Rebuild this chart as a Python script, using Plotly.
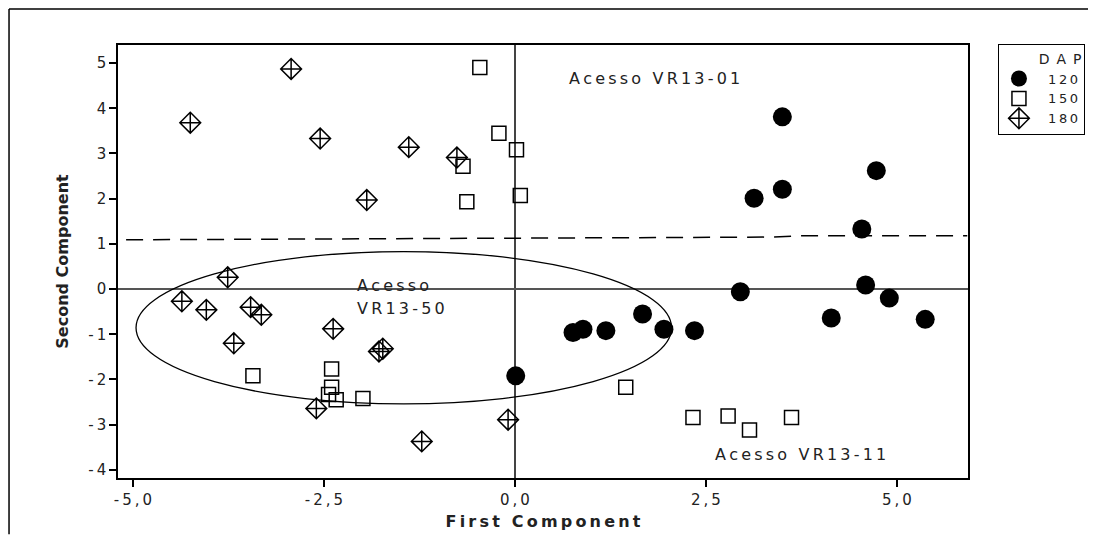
import plotly.graph_objects as go

# ---- data ----
x120 = [3.50, 4.73, 3.50, 3.13, 4.54, 2.95, 4.59, 4.90, 4.14, 5.37, 1.67, 0.76, 0.89, 1.19, 1.95, 2.35, 0.01]
y120 = [3.81, 2.62, 2.21, 2.01, 1.33, -0.06, 0.09, -0.20, -0.64, -0.67, -0.55, -0.96, -0.89, -0.92, -0.89, -0.92, -1.92]

x150 = [-0.46, -0.21, 0.02, -0.68, -0.63, 0.07, -3.43, -2.40, -2.40, -2.44, -2.34, -1.99, 1.45, 2.33, 2.79, 3.07, 3.62]
y150 = [4.90, 3.45, 3.08, 2.72, 1.93, 2.07, -1.92, -1.77, -2.17, -2.33, -2.45, -2.42, -2.17, -2.84, -2.81, -3.12, -2.84]

x180 = [-4.25, -2.93, -2.55, -1.39, -0.76, -1.94, -3.76, -4.36, -4.04, -3.46, -3.32, -3.68, -2.38, -1.78, -1.73, -2.60, -0.09, -1.22]
y180 = [3.68, 4.87, 3.33, 3.14, 2.91, 1.97, 0.26, -0.27, -0.46, -0.40, -0.57, -1.20, -0.88, -1.38, -1.32, -2.64, -2.89, -3.37]

# dashed separation line
dash_x = [-5.09, 3.35, 3.75, 5.92]
dash_y = [1.09, 1.15, 1.18, 1.18]

# ellipse (bounds)
ell_x = [-4.96, 2.05]
ell_y = [-2.54, 0.83]

x_ticks = [-5.0, -2.5, 0.0, 2.5, 5.0]
x_ticklabels = ["-5,0", "-2,5", "0,0", "2,5", "5,0"]
y_ticks = [-4, -3, -2, -1, 0, 1, 2, 3, 4, 5]
y_ticklabels = ["-4", "-3", "-2", "-1", "0", "1", "2", "3", "4", "5"]

legend_names = ["120", "150", "180"]

TS = "\u2009"


def spaced(s):
    return TS.join(s)


FONT = "DejaVu Sans"
PAD = "\u2002\u2009"

fig = go.Figure()

fig.add_trace(go.Scatter(
    x=dash_x, y=dash_y, mode="lines", showlegend=False, hoverinfo="skip",
    line=dict(color="black", width=1.5, dash="17px,10px")))

fig.add_trace(go.Scatter(
    x=x120, y=y120, mode="markers", name=PAD + spaced(legend_names[0]),
    marker=dict(symbol="circle", size=19, color="black",
                line=dict(color="black", width=0))))
fig.add_trace(go.Scatter(
    x=x150, y=y150, mode="markers", name=PAD + spaced(legend_names[1]),
    marker=dict(symbol="square-open", size=14, color="black",
                line=dict(color="black", width=1.5))))
fig.add_trace(go.Scatter(
    x=x180, y=y180, mode="markers", name=PAD + spaced(legend_names[2]),
    marker=dict(symbol="diamond-cross-open", size=16, color="black",
                line=dict(color="black", width=1.5))))

# ellipse
fig.add_shape(type="circle", xref="x", yref="y",
              x0=ell_x[0], x1=ell_x[1], y0=ell_y[0], y1=ell_y[1],
              line=dict(color="black", width=1.3), layer="above")

# outer frame: top and left edges only (the rest lies outside the picture)
frame_line = dict(color="black", width=1.5)
fig.add_shape(type="line", xref="paper", yref="paper",
              x0=-0.1282, x1=1.17, y0=1.0831, y1=1.0831, line=frame_line)
fig.add_shape(type="line", xref="paper", yref="paper",
              x0=-0.1282, x1=-0.1282, y0=-0.13, y1=1.0831, line=frame_line)

ann_font = dict(family=FONT, size=16, color="#222")
fig.add_annotation(x=0.68, y=4.65, text=spaced("Acesso VR13-01"), showarrow=False,
                   xanchor="left", yanchor="middle", font=ann_font)
fig.add_annotation(x=-2.09, y=0.09, text=spaced("Acesso"), showarrow=False,
                   xanchor="left", yanchor="middle", font=ann_font)
fig.add_annotation(x=-2.09, y=-0.42, text=spaced("VR13-50"), showarrow=False,
                   xanchor="left", yanchor="middle", font=ann_font)
fig.add_annotation(x=2.59, y=-3.67, text=spaced("Acesso VR13-11"), showarrow=False,
                   xanchor="left", yanchor="middle", font=ann_font)

fig.update_layout(
    width=1080, height=530,
    margin=dict(l=110, r=120, t=37, b=60, autoexpand=False),
    paper_bgcolor="white", plot_bgcolor="white",
    font=dict(family=FONT, size=15, color="#222"),
    xaxis=dict(
        range=[-5.196, 5.93], tickvals=x_ticks, ticktext=[spaced(t) for t in x_ticklabels],
        showgrid=False, zeroline=True, zerolinecolor="#444", zerolinewidth=1.5,
        showline=True, linecolor="black", linewidth=1.5, mirror=True,
        ticks="outside", ticklen=7, tickwidth=1.5, tickcolor="black",
        tickfont=dict(family=FONT, size=15, color="#222"),
        title=dict(text="<b>" + spaced("First Component") + "</b>",
                   font=dict(family=FONT, size=16, color="#222"), standoff=8),
    ),
    yaxis=dict(
        range=[-4.18, 5.40], tickvals=y_ticks, ticktext=[spaced(t) for t in y_ticklabels],
        showgrid=False, zeroline=True, zerolinecolor="#555", zerolinewidth=1.5,
        showline=True, linecolor="black", linewidth=1.5, mirror=True,
        ticks="outside", ticklen=7, tickwidth=1.5, tickcolor="black",
        tickfont=dict(family=FONT, size=15, color="#222"),
        title=dict(text="<b>Second Component</b>",
                   font=dict(family=FONT, size=16, color="#222"), standoff=16),
    ),
    legend=dict(
        x=1.035, y=1.002, xanchor="left", yanchor="top",
        bordercolor="black", borderwidth=1.2, bgcolor="white",
        font=dict(family=FONT, size=13, color="#222"),
        title=dict(text="D\u2002A\u2002P", side="top right",
                   font=dict(family=FONT, size=14, color="#222")),
        traceorder="normal", itemwidth=30,
    ),
)

fig.write_html("out.html")
